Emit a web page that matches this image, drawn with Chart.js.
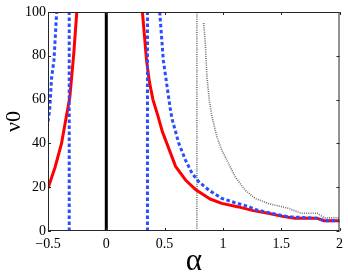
<!DOCTYPE html>
<html>
<head>
<meta charset="utf-8">
<script src="https://cdn.jsdelivr.net/npm/chart.js@4.4.1/dist/chart.umd.min.js"></script>
<style>
  html, body { margin: 0; padding: 0; background: #ffffff; }
  #wrap { width: 348px; height: 273px; position: relative; }
</style>
</head>
<body>
<div id="wrap"><canvas id="c" width="348" height="273"></canvas></div>
<script>
// ---- data ----
const xTickValues = [-0.5, 0, 0.5, 1, 1.5, 2];
const xTickLabels = ['\u22120.5', '0', '0.5', '1', '1.5', '2'];
const yTickValues = [0, 20, 40, 60, 80, 100];
const yTickLabels = ['0', '20', '40', '60', '80', '100'];

// red solid curve, left branch (alpha, nu0)
const redLeftAlpha = [-0.5, -0.44, -0.384, -0.347, -0.313, -0.279, -0.253];
const redLeftNu    = [19.5, 29, 40, 51, 61, 81, 100];
// red solid curve, right branch
const redRightAlpha = [0.31, 0.345, 0.37, 0.40, 0.44, 0.48, 0.537, 0.594, 0.679, 0.764, 0.89, 0.99, 1.134, 1.26, 1.388, 1.5, 1.615, 1.81, 1.87, 2.0];
const redRightNu    = [100, 78, 68, 60, 53, 45.5, 37.5, 29.5, 23.3, 19, 14.6, 12.6, 11, 9.3, 8.1, 6.8, 5.8, 5.8, 4.7, 4.7];

// blue dashed curves
const blueLeftAlpha = [-0.5, -0.486, -0.469, -0.449, -0.436, -0.426];
const blueLeftNu    = [50, 55, 70, 78, 90, 100];
const blueVertLeftAlpha = [-0.318, -0.318];
const blueVertLeftNu    = [0, 100];
const blueVertRightAlpha = [0.353, 0.353];
const blueVertRightNu    = [0, 100];
const blueRightAlpha = [0.458, 0.489, 0.55, 0.566, 0.622, 0.679, 0.736, 0.793, 0.878, 0.99, 1.105, 1.218, 1.275, 1.416, 1.558, 1.81, 1.87, 2.0];
const blueRightNu    = [100, 78, 55.3, 50.7, 40, 32.4, 26.3, 22.5, 18.7, 14.9, 12.9, 11.2, 9.8, 8.1, 6.5, 5.8, 4.7, 4.7];

// black solid vertical at alpha = 0
const blackAlpha = [0, 0];
const blackNu    = [0, 100];

// gray dotted curves
const grayVertAlpha = [0.777, 0.777];
const grayVertNu    = [0, 100];
const grayAlpha = [0.835, 0.849, 0.863, 0.883, 0.906, 0.948, 0.99, 1.048, 1.105, 1.19, 1.275, 1.388, 1.558, 1.671, 1.81, 1.87, 2.0];
const grayNu    = [95, 85.7, 70.5, 59.8, 52.2, 43.1, 37, 30.9, 24.8, 18.7, 14.9, 12.6, 10.4, 8.1, 8.1, 6, 6];

// ---- build chart ----
function pts(xs, ys) { return xs.map((v, i) => ({ x: v, y: ys[i] })); }

const RED = '#ff0000';
const BLUE = '#2a4dff';
const GRAY = '#6e6e6e';

function ds(data, color, width, dash, order) {
  return {
    data: data, borderColor: color, backgroundColor: color,
    borderWidth: width, borderDash: dash, pointRadius: 0, pointHoverRadius: 0,
    tension: 0, fill: false, showLine: true, order: order,
    borderCapStyle: 'butt', borderJoinStyle: 'round'
  };
}

const datasets = [
  ds(pts(grayVertAlpha, grayVertNu), GRAY, 1.6, [1, 1.2], 6),
  ds(pts(grayAlpha, grayNu), GRAY, 1.6, [1, 1.2], 6),
  ds(pts(blackAlpha, blackNu), '#000000', 3, [], 5),
  ds(pts(redLeftAlpha, redLeftNu), RED, 3, [], 4),
  ds(pts(redRightAlpha, redRightNu), RED, 3, [], 4),
  ds(pts(blueLeftAlpha, blueLeftNu), BLUE, 3, [3.5, 2.5], 2),
  ds(pts(blueVertLeftAlpha, blueVertLeftNu), BLUE, 3, [3.5, 2.5], 2),
  ds(pts(blueVertRightAlpha, blueVertRightNu), BLUE, 3, [3.5, 2.5], 2),
  ds(pts(blueRightAlpha, blueRightNu), BLUE, 3, [3.5, 2.5], 2)
];

const frame = {
  id: 'frame',
  afterDatasetsDraw(chart) {
    const { ctx, chartArea: a, scales } = chart;
    const x = scales.x, y = scales.y;
    const tl = 3;
    ctx.save();
    ctx.strokeStyle = '#262626';
    ctx.lineWidth = 1;
    ctx.setLineDash([]);
    ctx.beginPath();
    xTickValues.forEach(v => {
      const px = Math.round(x.getPixelForValue(v)) + 0.5;
      ctx.moveTo(px, a.bottom); ctx.lineTo(px, a.bottom - tl);
      ctx.moveTo(px, a.top); ctx.lineTo(px, a.top + tl);
    });
    yTickValues.forEach(v => {
      const py = Math.round(y.getPixelForValue(v)) + 0.5;
      ctx.moveTo(a.left, py); ctx.lineTo(a.left + tl, py);
      ctx.moveTo(a.right, py); ctx.lineTo(a.right - tl, py);
    });
    ctx.stroke();
    ctx.strokeRect(a.left + 0.5, a.top + 0.5, a.right - a.left - 1, a.bottom - a.top - 1);
    ctx.restore();
  }
};

const serif = "'Liberation Serif', 'DejaVu Serif', serif";

new Chart(document.getElementById('c'), {
  type: 'line',
  data: { datasets: datasets },
  options: {
    responsive: false,
    animation: false,
    events: [],
    layout: { padding: { left: 0, right: 6, top: 12, bottom: 0 } },
    plugins: { legend: { display: false }, tooltip: { enabled: false } },
    scales: {
      x: {
        type: 'linear', min: -0.5, max: 2,
        grid: { display: false, drawTicks: false },
        border: { display: false },
        afterBuildTicks: s => { s.ticks = xTickValues.map(v => ({ value: v })); },
        ticks: {
          padding: 5, color: '#000', maxRotation: 0, autoSkip: false,
          font: { family: serif, size: 14, lineHeight: 1.2 },
          callback: (v, i) => xTickLabels[i]
        },
        title: {
          display: true, text: 'α', color: '#000',
          font: { family: serif, size: 31, lineHeight: 0.72 },
          padding: { top: 0, bottom: 0 }
        },
        afterFit: s => { s.height = 42; }
      },
      y: {
        type: 'linear', min: 0, max: 100,
        grid: { display: false, drawTicks: false },
        border: { display: false },
        afterBuildTicks: s => { s.ticks = yTickValues.map(v => ({ value: v })); },
        ticks: {
          padding: 2, color: '#000', autoSkip: false,
          font: { family: serif, size: 14, lineHeight: 1.2 },
          callback: (v, i) => yTickLabels[i]
        },
        title: {
          display: true, text: 'ν0', color: '#000',
          font: { family: serif, size: 22, lineHeight: 1 },
          padding: { top: 3, bottom: 0 }
        },
        afterFit: s => { s.width = 48; }
      }
    }
  },
  plugins: [frame]
});
</script>
</body>
</html>
